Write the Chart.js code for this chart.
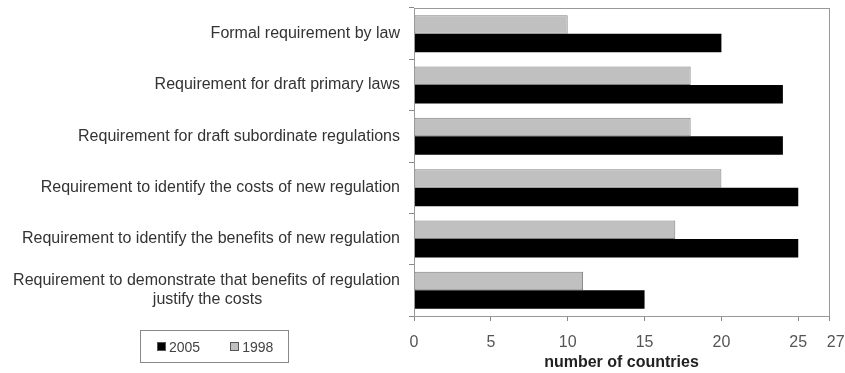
<!DOCTYPE html>
<html>
<head>
<meta charset="utf-8">
<script src="https://cdn.jsdelivr.net/npm/chart.js@4/dist/chart.umd.min.js"></script>
<style>
  body { margin: 0; background: #fff; }
  #wrap { position: relative; width: 845px; height: 373px; }
  #legend {
    position: absolute; left: 140px; top: 330px; width: 147px; height: 31px;
    border: 1px solid #888; font: 14px "Liberation Sans", Arial, sans-serif; color: #444;
    display: flex; align-items: center; box-sizing: content-box;
  }
  #legend span.sw { display: inline-block; width: 7px; height: 7px; margin-right: 3px; border: 1px solid #555; }
</style>
</head>
<body>
<div id="wrap">
  <canvas id="chart" width="845" height="373"></canvas>
  <div id="legend">
    <span style="margin-left:16px" class="sw" id="sw2005"></span><span>2005</span>
    <span style="margin-left:30px" class="sw" id="sw1998"></span><span>1998</span>
  </div>
</div>
<script>
// Categories (top to bottom)
const categories = [
    'Formal requirement by law',
    'Requirement for draft primary laws',
    'Requirement for draft subordinate regulations',
    'Requirement to identify the costs of new regulation',
    'Requirement to identify the benefits of new regulation',
    ['Requirement to demonstrate that benefits of regulation', 'justify the costs']
];

// Number of countries
const values1998 = [10, 18, 18, 20, 17, 11];
const values2005 = [20, 24, 24, 25, 25, 15];

const xTicks = [0, 5, 10, 15, 20, 25, 27];

const family = '"Liberation Sans", Arial, sans-serif';
const labelFont = '16px ' + family;
const gray = '#c0c0c0';

document.getElementById('sw2005').style.background = '#000';
document.getElementById('sw1998').style.background = gray;

// center shorter lines of a multi-line label under the longest one
const measureCtx = document.createElement('canvas').getContext('2d');
measureCtx.font = labelFont;
function centerLines(label) {
    if (!Array.isArray(label)) return label;
    const widths = label.map(l => measureCtx.measureText(l).width);
    const maxW = Math.max(...widths);
    const spaceW = measureCtx.measureText(' ').width;
    return label.map((l, i) => l + ' '.repeat(Math.round((maxW - widths[i]) / 2 / spaceW)));
}

// gray frame around the plot area
const frame = {
    id: 'frame',
    afterDraw(chart) {
        const a = chart.chartArea;
        const ctx = chart.ctx;
        ctx.save();
        ctx.strokeStyle = '#999';
        ctx.lineWidth = 1;
        ctx.strokeRect(a.left + 0.5, a.top + 0.5, a.right - a.left, a.bottom - a.top);
        ctx.restore();
    }
};

const ctx = document.getElementById('chart').getContext('2d');
window.myChart = new Chart(ctx, {
    type: 'bar',
    data: {
        labels: categories,
        datasets: [{
            label: '1998',
            data: values1998,
            backgroundColor: gray,
            borderColor: '#808080',
            borderWidth: 1,
            borderSkipped: false
        }, {
            label: '2005',
            data: values2005,
            backgroundColor: '#000',
            borderColor: '#000',
            borderWidth: 0
        }]
    },
    options: {
        indexAxis: 'y',
        responsive: false,
        animation: false,
        layout: { padding: { left: 0, right: 16, top: 8, bottom: 0 } },
        datasets: { bar: { categoryPercentage: 0.72, barPercentage: 1 } },
        plugins: {
            legend: { display: false },
            tooltip: { enabled: false }
        },
        scales: {
            x: {
                min: 0,
                max: 27,
                afterBuildTicks: axis => { axis.ticks = xTicks.map(v => ({ value: v })); },
                grid: { drawOnChartArea: false, tickLength: 5, color: '#888' },
                border: { color: '#888' },
                ticks: {
                    color: '#555',
                    font: { size: 16, family: family },
                    padding: 12,
                    // the last label sits a bit right of its tick in the original
                    callback: v => (v === 27 ? '   27' : String(v))
                },
                title: {
                    display: true,
                    text: 'number of countries',
                    color: '#222',
                    font: { size: 16, weight: 'bold', family: family },
                    padding: { top: 0, bottom: 1 }
                },
                afterFit: scale => {
                    scale.height = 57;
                    scale.paddingLeft = 0;
                    scale.paddingRight = 0;
                }
            },
            y: {
                grid: { offset: true, drawOnChartArea: false, tickLength: 5, color: '#888' },
                border: { color: '#888' },
                ticks: {
                    color: '#333',
                    font: { size: 16, family: family },
                    padding: 9,
                    callback: function (value, index) { return centerLines(categories[index]); }
                },
                afterFit: scale => {
                    scale.width = 414;
                    scale.paddingTop = 0;
                    scale.paddingBottom = 0;
                }
            }
        }
    },
    plugins: [frame]
});
</script>
</body>
</html>
